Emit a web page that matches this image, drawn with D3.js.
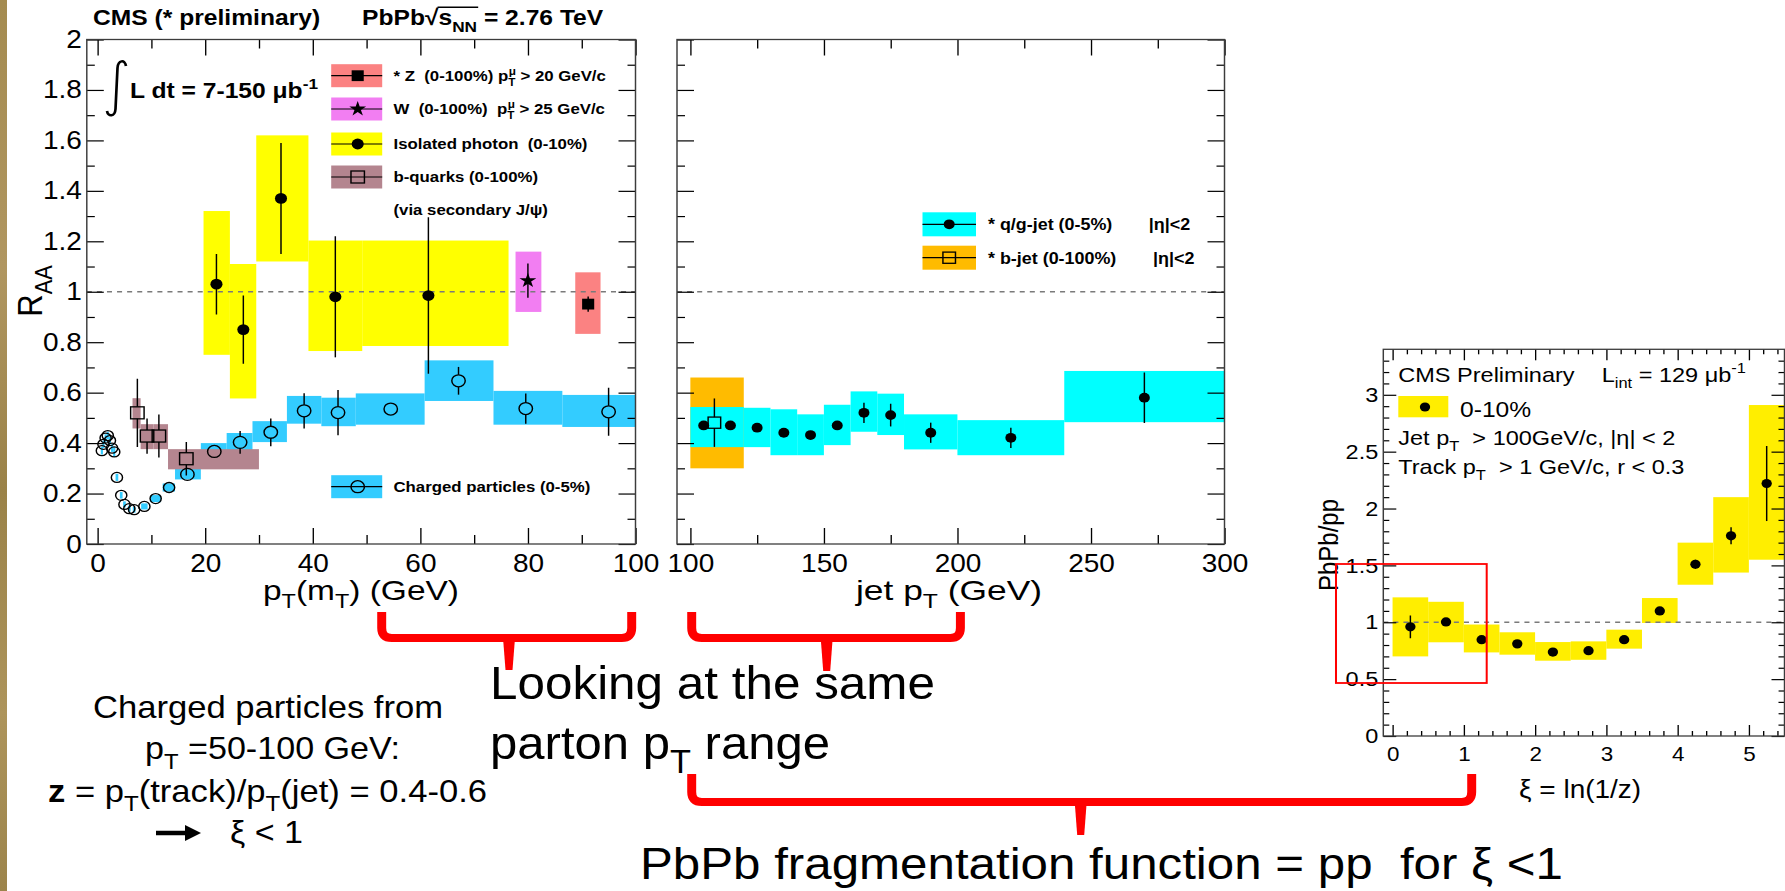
<!DOCTYPE html>
<html>
<head>
<meta charset="utf-8">
<title>Nuclear modification factors and fragmentation function ratio</title>
<script src="https://cdn.jsdelivr.net/npm/d3@7"></script>
<style>
  html, body { margin: 0; padding: 0; background: #fff; }
  svg { display: block; }
  text { font-family: "Liberation Sans", Arial, Helvetica, sans-serif; white-space: pre; }
</style>
</head>
<body>
<svg id="chart" width="1785" height="891"></svg>
<script>
// ---------------- values ----------------
// Left panel: R_AA versus pT (mT) in GeV
const photonX = [22.1, 27.1, 34.1, 44.2, 61.5];
const photonY = [1.03, 0.85, 1.37, 0.98, 0.985];
const photonStat = [0.12, 0.135, 0.22, 0.24, 0.31];
const photonBinLo = [19.7, 24.6, 29.5, 39.2, 49.2];
const photonBinHi = [24.6, 29.5, 39.2, 49.2, 76.4];
const photonSysLo = [0.75, 0.577, 1.12, 0.765, 0.785];
const photonSysHi = [1.32, 1.11, 1.62, 1.203, 1.203];

const wX = [80.0];
const wY = [1.044];
const wStat = [0.068];
const wBinLo = [77.7];
const wBinHi = [82.5];
const wSysLo = [0.92];
const wSysHi = [1.159];

const zX = [91.2];
const zY = [0.951];
const zStat = [0.03];
const zBinLo = [88.8];
const zBinHi = [93.5];
const zSysLo = [0.833];
const zSysHi = [1.077];

const chargedX = [0.8, 1.1, 1.5, 1.9, 2.3, 2.7, 3.1, 3.6, 4.4, 5.0, 5.9, 6.8, 8.7, 10.8, 13.3, 16.7, 21.7, 26.5, 32.2, 38.4, 44.7, 54.5, 67.1, 79.6, 95.0];
const chargedY = [0.37, 0.395, 0.42, 0.43, 0.41, 0.38, 0.365, 0.264, 0.193, 0.157, 0.14, 0.136, 0.149, 0.18, 0.224, 0.276, 0.367, 0.403, 0.443, 0.528, 0.521, 0.535, 0.647, 0.537, 0.524];
const chargedStat = [0.008, 0.008, 0.008, 0.008, 0.008, 0.008, 0.008, 0.006, 0.005, 0.005, 0.005, 0.005, 0.005, 0.006, 0.008, 0.01, 0.02, 0.045, 0.055, 0.07, 0.09, 0.02, 0.055, 0.06, 0.095];
const chargedBinLo = [0.6, 0.9, 1.3, 1.7, 2.1, 2.5, 2.9, 3.35, 4.15, 4.75, 5.65, 6.55, 8.1, 9.8, 12.1, 14.4, 19.2, 24.0, 28.8, 35.2, 41.6, 48.0, 60.8, 73.6, 86.4];
const chargedBinHi = [1.0, 1.3, 1.7, 2.1, 2.5, 2.9, 3.3, 3.85, 4.65, 5.25, 6.15, 7.05, 9.3, 11.8, 14.4, 19.2, 24.0, 28.8, 35.2, 41.6, 48.0, 60.8, 73.6, 86.4, 103.6];
const chargedSysLo = [0.355, 0.38, 0.405, 0.415, 0.395, 0.365, 0.345, 0.25, 0.18, 0.145, 0.128, 0.124, 0.137, 0.166, 0.208, 0.256, 0.33, 0.37, 0.404, 0.477, 0.467, 0.473, 0.567, 0.473, 0.464];
const chargedSysHi = [0.385, 0.41, 0.435, 0.445, 0.425, 0.395, 0.385, 0.278, 0.206, 0.169, 0.152, 0.148, 0.161, 0.194, 0.24, 0.30, 0.40, 0.44, 0.487, 0.587, 0.58, 0.597, 0.728, 0.607, 0.591];

const bqX = [7.4, 9.2, 11.4, 16.5];
const bqY = [0.52, 0.428, 0.428, 0.338];
const bqStat = [0.135, 0.07, 0.085, 0.066];
const bqBinLo = [6.5, 8.0, 10.4, 13.1];
const bqBinHi = [8.0, 10.4, 13.1, 30.0];
const bqSysLo = [0.458, 0.376, 0.376, 0.296];
const bqSysHi = [0.578, 0.475, 0.475, 0.376];

// Middle panel: jet R_AA versus jet pT (GeV)
const qgX = [105, 115, 125, 135, 145, 155, 165, 175, 190, 220, 270];
const qgY = [0.47, 0.47, 0.461, 0.441, 0.432, 0.47, 0.52, 0.511, 0.441, 0.421, 0.58];
const qgStat = [0.012, 0.012, 0.012, 0.012, 0.012, 0.015, 0.04, 0.045, 0.04, 0.04, 0.1];
const qgBinLo = [100, 110, 120, 130, 140, 150, 160, 170, 180, 200, 240];
const qgBinHi = [110, 120, 130, 140, 150, 160, 170, 180, 200, 240, 300];
const qgSysLo = [0.384, 0.384, 0.384, 0.352, 0.352, 0.392, 0.445, 0.432, 0.375, 0.352, 0.483];
const qgSysHi = [0.543, 0.543, 0.54, 0.534, 0.514, 0.552, 0.605, 0.596, 0.514, 0.491, 0.686];

const bjetX = [109];
const bjetY = [0.481];
const bjetStat = [0.096];
const bjetBinLo = [100];
const bjetBinHi = [120];
const bjetSysLo = [0.30];
const bjetSysHi = [0.66];

// Right panel: PbPb/pp fragmentation function ratio versus xi = ln(1/z)
const xiX = [0.25, 0.75, 1.25, 1.75, 2.25, 2.75, 3.25, 3.75, 4.25, 4.75, 5.25];
const xiY = [0.96, 1.003, 0.847, 0.81, 0.738, 0.75, 0.847, 1.10, 1.51, 1.76, 2.22];
const xiStat = [0.1, 0.02, 0.012, 0.012, 0.012, 0.012, 0.012, 0.02, 0.04, 0.075, 0.33];
const xiBinLo = [0, 0.5, 1.0, 1.5, 2.0, 2.5, 3.0, 3.5, 4.0, 4.5, 5.0];
const xiBinHi = [0.5, 1.0, 1.5, 2.0, 2.5, 3.0, 3.5, 4.0, 4.5, 5.0, 5.5];
const xiSysLo = [0.70, 0.824, 0.735, 0.715, 0.662, 0.67, 0.768, 0.994, 1.33, 1.437, 1.55];
const xiSysHi = [1.219, 1.18, 0.98, 0.912, 0.826, 0.832, 0.935, 1.213, 1.70, 2.10, 2.91];

// Tick values
const ptTicks = [0, 20, 40, 60, 80, 100];
const ptMinor = [10, 30, 50, 70, 90];
const jetTicks = [100, 150, 200, 250, 300];
const jetMinor = [125, 175, 225, 275];
const raaTicks = [0, 0.2, 0.4, 0.6, 0.8, 1, 1.2, 1.4, 1.6, 1.8, 2];
const raaMinor = [0.1, 0.3, 0.5, 0.7, 0.9, 1.1, 1.3, 1.5, 1.7, 1.9];
const xiTicks = [0, 1, 2, 3, 4, 5];
const xiMinor = [0.2, 0.4, 0.6, 0.8, 1.2, 1.4, 1.6, 1.8, 2.2, 2.4, 2.6, 2.8, 3.2, 3.4, 3.6, 3.8, 4.2, 4.4, 4.6, 4.8, 5.2, 5.4];
const ratioTicks = [0, 0.5, 1, 1.5, 2, 2.5, 3];
const ratioMinor = [0.1, 0.2, 0.3, 0.4, 0.6, 0.7, 0.8, 0.9, 1.1, 1.2, 1.3, 1.4, 1.6, 1.7, 1.8, 1.9, 2.1, 2.2, 2.3, 2.4, 2.6, 2.7, 2.8, 2.9, 3.1, 3.2, 3.3];

// ---------------- colours ----------------
const C_Z = '#fb8282', C_W = '#f27ef2', C_PHOTON = '#ffff00', C_BQ = '#b4858f',
      C_CH = '#33ccff', C_QG = '#00ffff', C_BJET = '#ffbb00', C_FF = '#ffee00', RED = '#ff0000';

// ---------------- scene ----------------
// The slide is drawn with a slight horizontal stretch.
const SX = 1.12;
const X = px => px / SX;

const svg = d3.select('#chart');
const defs = svg.append('defs');
const gold = defs.append('linearGradient').attr('id', 'gold').attr('x1', 0).attr('y1', 0).attr('x2', 0).attr('y2', 1);
[['0', '#a48b50'], ['0.3', '#b09660'], ['0.55', '#9a8248'], ['0.8', '#ad945b'], ['1', '#9c844b']]
  .forEach(([o, c]) => gold.append('stop').attr('offset', o).attr('stop-color', c));
svg.append('rect').attr('width', 1785).attr('height', 891).attr('fill', '#fff');
svg.append('rect').attr('x', 0).attr('y', 0).attr('width', 7).attr('height', 891).attr('fill', 'url(#gold)');

const root = svg.append('g').attr('transform', `scale(${SX},1)`);

// rich text: parts are strings or {t, k:'sub'|'sup', dx, w, cls}
function rich(parent, x, y, parts, o = {}) {
  const fs = o.size || 20;
  const t = parent.append('text')
    .attr('x', x).attr('y', y)
    .attr('font-size', fs)
    .attr('font-weight', o.weight || 'normal')
    .attr('text-anchor', o.anchor || 'start')
    .attr('fill', o.fill || '#000');
  if (o.transform) t.attr('transform', o.transform);
  if (o.len) t.attr('textLength', o.len).attr('lengthAdjust', 'spacingAndGlyphs');
  let shift = 0;
  parts.forEach(p => {
    const q = typeof p === 'string' ? { t: p } : p;
    const off = q.k === 'sub' ? fs * 0.3 : q.k === 'sup' ? -fs * 0.42 : 0;
    const ts = t.append('tspan').text(q.t).attr('dy', off - shift);
    if (q.k) ts.attr('font-size', fs * 0.7);
    if (q.dx) ts.attr('dx', q.dx);
    if (q.w) ts.attr('font-weight', q.w);
    if (q.cls) ts.attr('class', q.cls);
    shift = off;
  });
  return t;
}

function series(x, y, stat, binLo, binHi, sysLo, sysHi) {
  return x.map((v, i) => ({ x: v, y: y[i], e: stat[i], lo: binLo[i], hi: binHi[i], slo: sysLo[i], shi: sysHi[i] }));
}

function bands(g, xs, ys, data, color) {
  g.append('g').selectAll('rect').data(data).join('rect')
    .attr('x', d => xs(d.lo)).attr('width', d => xs(d.hi) - xs(d.lo))
    .attr('y', d => ys(d.shi)).attr('height', d => ys(d.slo) - ys(d.shi))
    .attr('fill', color);
}

function errors(g, xs, ys, data, gap) {
  const segs = [];
  data.forEach(d => {
    const cx = xs(d.x), cy = ys(d.y), top = ys(d.y + d.e), bot = ys(d.y - d.e);
    if (cy - gap > top) segs.push([cx, top, cy - gap]);
    if (cy + gap < bot) segs.push([cx, cy + gap, bot]);
  });
  g.append('g').selectAll('line').data(segs).join('line')
    .attr('x1', s => s[0]).attr('x2', s => s[0]).attr('y1', s => s[1]).attr('y2', s => s[2])
    .attr('stroke', '#000').attr('stroke-width', 1.3);
}

function markers(g, xs, ys, data, kind, r) {
  const m = g.append('g');
  const px = d => xs(d.x), py = d => ys(d.y);
  if (kind === 'dot' || kind === 'ring') {
    m.selectAll('circle').data(data).join('circle')
      .attr('cx', px).attr('cy', py).attr('r', r)
      .attr('fill', kind === 'dot' ? '#000' : 'none')
      .attr('stroke', '#000').attr('stroke-width', kind === 'dot' ? 0 : 1.3);
  } else if (kind === 'square' || kind === 'box') {
    m.selectAll('rect').data(data).join('rect')
      .attr('x', d => px(d) - r).attr('y', d => py(d) - r).attr('width', 2 * r).attr('height', 2 * r)
      .attr('fill', kind === 'square' ? '#000' : 'none')
      .attr('stroke', '#000').attr('stroke-width', kind === 'square' ? 0 : 1.3);
  } else if (kind === 'star') {
    m.selectAll('path').data(data).join('path')
      .attr('transform', d => `translate(${px(d)},${py(d)})`)
      .attr('d', d3.symbol(d3.symbolStar, r))
      .attr('fill', '#000');
  }
}

function legendMarker(g, cx, cy, kind, r) {
  markers(g, d3.scaleIdentity(), d3.scaleIdentity(), [{ x: cx, y: cy }], kind, r);
}

function frame(g, xs, ys, cfg) {
  const [x0, x1] = xs.range(), [y0, y1] = ys.range();
  const ax = (fn, scale, vals, len, tx, ty, fmt, fs, pad) => {
    const a = fn(scale).tickValues(vals).tickSize(-len).tickPadding(pad || 0)
      .tickFormat(fmt || (() => ''));
    const s = g.append('g').attr('transform', `translate(${tx},${ty})`).call(a);
    s.select('.domain').remove();
    s.selectAll('.tick line').attr('stroke', '#000').attr('stroke-width', 1.2);
    s.selectAll('.tick text').attr('fill', '#000').attr('font-size', fs || 10);
    return s;
  };
  const fmt = d => String(+(+d).toFixed(2));
  ax(d3.axisBottom, xs, cfg.xMajor, cfg.xLen[0], 0, y0, cfg.xLabels ? fmt : null, cfg.xFont, cfg.xPad);
  ax(d3.axisBottom, xs, cfg.xMinor, cfg.xLen[1], 0, y0);
  ax(d3.axisTop, xs, cfg.xMajor, cfg.xLen[0], 0, y1);
  ax(d3.axisTop, xs, cfg.xMinor, cfg.xLen[1], 0, y1);
  ax(d3.axisLeft, ys, cfg.yMajor, cfg.yLen[0], x0, 0, cfg.yLabels ? fmt : null, cfg.yFont, cfg.yPad);
  ax(d3.axisLeft, ys, cfg.yMinor, cfg.yLen[1], x0, 0);
  ax(d3.axisRight, ys, cfg.yMajor, cfg.yLen[0], x1, 0);
  ax(d3.axisRight, ys, cfg.yMinor, cfg.yLen[1], x1, 0);
  g.append('rect').attr('x', x0).attr('y', y1).attr('width', x1 - x0).attr('height', y0 - y1)
    .attr('fill', 'none').attr('stroke', '#3c3c3c').attr('stroke-width', 1.3);
}

function unityLine(g, xs, ys) {
  g.append('line').attr('x1', xs.range()[0]).attr('x2', xs.range()[1])
    .attr('y1', ys(1)).attr('y2', ys(1))
    .attr('stroke', '#7a7a7a').attr('stroke-width', 1.3).attr('stroke-dasharray', '4.5,4.5');
}

function clipFor(id, xs, ys) {
  const [x0, x1] = xs.range(), [y0, y1] = ys.range();
  defs.append('clipPath').attr('id', id).append('rect')
    .attr('x', x0).attr('y', y1).attr('width', x1 - x0).attr('height', y0 - y1);
  return `url(#${id})`;
}

// ---------------- scales ----------------
const yRAA = d3.scaleLinear().domain([0, 2]).range([544, 39.5]);
const xPt = d3.scaleLinear().domain([-2, 100]).range([X(86.8), X(635.5)]);
const xJet = d3.scaleLinear().domain([95, 300]).range([X(677), X(1224.5)]);
const xXi = d3.scaleLinear().domain([-0.13, 5.5]).range([X(1383.3), X(1784.5)]);
const yRatio = d3.scaleLinear().domain([0, 3.4]).range([736, 349.3]);

// ================= left panel =================
const pL = root.append('g');
const dL = pL.append('g').attr('clip-path', clipFor('clipL', xPt, yRAA));
const photon = series(photonX, photonY, photonStat, photonBinLo, photonBinHi, photonSysLo, photonSysHi);
const wBoson = series(wX, wY, wStat, wBinLo, wBinHi, wSysLo, wSysHi);
const zBoson = series(zX, zY, zStat, zBinLo, zBinHi, zSysLo, zSysHi);
const charged = series(chargedX, chargedY, chargedStat, chargedBinLo, chargedBinHi, chargedSysLo, chargedSysHi);
const bquark = series(bqX, bqY, bqStat, bqBinLo, bqBinHi, bqSysLo, bqSysHi);

bands(dL, xPt, yRAA, charged, C_CH);
bands(dL, xPt, yRAA, bquark, C_BQ);
bands(dL, xPt, yRAA, photon, C_PHOTON);
bands(dL, xPt, yRAA, wBoson, C_W);
bands(dL, xPt, yRAA, zBoson, C_Z);
unityLine(dL, xPt, yRAA);
errors(dL, xPt, yRAA, charged.filter(d => d.x > 15), 6);
errors(dL, xPt, yRAA, bquark, 6);
errors(dL, xPt, yRAA, photon, 0);
errors(dL, xPt, yRAA, wBoson, 0);
errors(dL, xPt, yRAA, zBoson, 0);
markers(dL, xPt, yRAA, charged.filter(d => d.x < 15), 'ring', 5);
markers(dL, xPt, yRAA, charged.filter(d => d.x > 15), 'ring', 6);
markers(dL, xPt, yRAA, bquark, 'box', 6);
markers(dL, xPt, yRAA, photon, 'dot', 5.4);
markers(dL, xPt, yRAA, wBoson, 'star', 70);
markers(dL, xPt, yRAA, zBoson, 'square', 5.4);

frame(pL, xPt, yRAA, {
  xMajor: ptTicks, xMinor: ptMinor, xLen: [16, 9], xLabels: true, xFont: 25, xPad: 10,
  yMajor: raaTicks, yMinor: raaMinor, yLen: [X(17), X(8)], yLabels: true, yFont: 25, yPad: X(5)
});

// left legend
const legL = [
  { y: 75.7, color: C_Z, kind: 'square', r: 5.4,
    text: ['* Z  (0-100%) p', { t: 'T', k: 'sub' }, { t: 'μ', k: 'sup', dx: -6 }, ' > 20 GeV/c'] },
  { y: 109, color: C_W, kind: 'star', r: 70,
    text: ['W  (0-100%)  p', { t: 'T', k: 'sub' }, { t: 'μ', k: 'sup', dx: -6 }, ' > 25 GeV/c'] },
  { y: 144, color: C_PHOTON, kind: 'dot', r: 5.4, text: ['Isolated photon  (0-10%)'] },
  { y: 177, color: C_BQ, kind: 'box', r: 6, text: ['b-quarks (0-100%)'] },
  { y: 486.7, color: C_CH, kind: 'ring', r: 6, text: ['Charged particles (0-5%)'] }
];
legL.forEach(L => {
  pL.append('rect').attr('x', X(331.2)).attr('y', L.y - 11.5).attr('width', X(51)).attr('height', 23).attr('fill', L.color);
  pL.append('line').attr('x1', X(331.2)).attr('x2', X(382.2)).attr('y1', L.y).attr('y2', L.y)
    .attr('stroke', '#000').attr('stroke-width', 1.2);
  legendMarker(pL, X(357.7), L.y, L.kind, L.r);
  rich(pL, X(393.5), L.y + 5.5, L.text, { size: 15, weight: 'bold' });
});
rich(pL, X(393.5), 215.5, ['(via secondary J/ψ)'], { size: 15, weight: 'bold' });

// header and luminosity
rich(root, X(93), 25, ['CMS (* preliminary)'], { size: 22, weight: 'bold' });
const hdr = rich(root, X(362), 25,
  ['PbPb', { t: '√', cls: 'rad' }, { t: 's', cls: 'ov' }, { t: 'NN', k: 'sub', cls: 'ov' }, ' = 2.76 TeV'],
  { size: 22, weight: 'bold' });
try {
  const rb = hdr.select('.rad').node().getBBox();
  const ob = hdr.selectAll('.ov').nodes().map(n => n.getBBox());
  const xEnd = d3.max(ob, b => b.x + b.width);
  root.append('line').attr('x1', rb.x + rb.width - 1).attr('x2', xEnd + 1)
    .attr('y1', rb.y + 2).attr('y2', rb.y + 2).attr('stroke', '#000').attr('stroke-width', 1.6);
} catch (e) { /* bbox unavailable */ }

root.append('path')
  .attr('d', `M${X(126)},66 C${X(125)},59 ${X(118)},60 ${X(117.5)},68 L${X(115.5)},109 C${X(115)},117 ${X(108)},117 ${X(107)},111`)
  .attr('fill', 'none').attr('stroke', '#000').attr('stroke-width', 2.4);
rich(root, X(130), 98, ['L dt = 7-150 μb', { t: '-1', k: 'sup' }], { size: 22, weight: 'bold' });

// axis titles
rich(root, 0, 0, ['R', { t: 'AA', k: 'sub' }], { size: 31, anchor: 'middle', transform: `translate(${X(42)},291) rotate(-90)` });
rich(root, X(263), 600, ['p', { t: 'T', k: 'sub' }, '(m', { t: 'T', k: 'sub' }, ') (GeV)'], { size: 28, len: X(196) });

// ================= middle panel =================
const pM = root.append('g');
const dM = pM.append('g').attr('clip-path', clipFor('clipM', xJet, yRAA));
const qg = series(qgX, qgY, qgStat, qgBinLo, qgBinHi, qgSysLo, qgSysHi);
const bjet = series(bjetX, bjetY, bjetStat, bjetBinLo, bjetBinHi, bjetSysLo, bjetSysHi);
bands(dM, xJet, yRAA, bjet, C_BJET);
bands(dM, xJet, yRAA, qg, C_QG);
unityLine(dM, xJet, yRAA);
errors(dM, xJet, yRAA, qg, 0);
errors(dM, xJet, yRAA, bjet, 5.5);
markers(dM, xJet, yRAA, qg, 'dot', 4.9);
markers(dM, xJet, yRAA, bjet, 'box', 5.6);
frame(pM, xJet, yRAA, {
  xMajor: jetTicks, xMinor: jetMinor, xLen: [16, 9], xLabels: true, xFont: 25, xPad: 10,
  yMajor: raaTicks, yMinor: raaMinor, yLen: [X(17), X(8)], yLabels: false
});
const legM = [
  { y: 224.3, color: C_QG, kind: 'dot', r: 4.9, text: ['* q/g-jet (0-5%)'], eta: 1148.8 },
  { y: 257.7, color: C_BJET, kind: 'box', r: 5.6, text: ['* b-jet (0-100%)'], eta: 1153 }
];
legM.forEach(L => {
  pM.append('rect').attr('x', X(922.5)).attr('y', L.y - 12).attr('width', X(53.5)).attr('height', 24).attr('fill', L.color);
  pM.append('line').attr('x1', X(922.5)).attr('x2', X(976)).attr('y1', L.y).attr('y2', L.y)
    .attr('stroke', '#000').attr('stroke-width', 1.2);
  legendMarker(pM, X(949.2), L.y, L.kind, L.r);
  rich(pM, X(988), L.y + 6, L.text, { size: 16, weight: 'bold' });
  rich(pM, X(L.eta), L.y + 6, ['|η|<2'], { size: 16, weight: 'bold' });
});
rich(root, X(856), 600, ['jet p', { t: 'T', k: 'sub' }, ' (GeV)'], { size: 28, len: X(186) });

// ================= right panel =================
const pR = root.append('g');
const dR = pR.append('g').attr('clip-path', clipFor('clipR', xXi, yRatio));
const ff = series(xiX, xiY, xiStat, xiBinLo, xiBinHi, xiSysLo, xiSysHi);
bands(dR, xXi, yRatio, ff, C_FF);
unityLine(dR, xXi, yRatio);
errors(dR, xXi, yRatio, ff, 0);
markers(dR, xXi, yRatio, ff, 'dot', 4.6);
frame(pR, xXi, yRatio, {
  xMajor: xiTicks, xMinor: xiMinor, xLen: [11, 5], xLabels: true, xFont: 20, xPad: 10.5,
  yMajor: ratioTicks, yMinor: ratioMinor, yLen: [X(13), X(6)], yLabels: true, yFont: 21, yPad: X(5)
});
rich(pR, X(1398.3), 381.7, ['CMS Preliminary'], { size: 21 });
rich(pR, X(1601.7), 381.7, ['L', { t: 'int', k: 'sub' }, ' = 129 μb', { t: '-1', k: 'sup' }], { size: 21 });
pR.append('rect').attr('x', X(1398.3)).attr('y', 396).attr('width', X(50)).attr('height', 21.3).attr('fill', C_FF);
legendMarker(pR, X(1425), 407, 'dot', 4.6);
rich(pR, X(1460), 417, ['0-10%'], { size: 22 });
rich(pR, X(1398.3), 445, ['Jet p', { t: 'T', k: 'sub' }, '  > 100GeV/c, |η| < 2'], { size: 21 });
rich(pR, X(1398.3), 474, ['Track p', { t: 'T', k: 'sub' }, '  > 1 GeV/c, r < 0.3'], { size: 21 });
rich(root, 0, 0, ['PbPb/pp'], { size: 24, anchor: 'middle', transform: `translate(${X(1338)},545) rotate(-90)` });
rich(root, X(1519), 798, ['ξ = ln(1/z)'], { size: 25 });

// highlighted region xi < 1
root.append('rect').attr('x', X(1336)).attr('y', 564).attr('width', X(150.7)).attr('height', 119)
  .attr('fill', 'none').attr('stroke', RED).attr('stroke-width', 1.8);

// ================= annotations =================
function bracket(x1, x2, top, hy, cx, bottom) {
  const r = 10;
  root.append('path')
    .attr('d', `M${X(x1)},${top} L${X(x1)},${hy - r} Q${X(x1)},${hy} ${X(x1 + r)},${hy} L${X(x2 - r)},${hy} Q${X(x2)},${hy} ${X(x2)},${hy - r} L${X(x2)},${top}`)
    .attr('fill', 'none').attr('stroke', RED).attr('stroke-width', 8);
  root.append('path')
    .attr('d', `M${X(cx - 6)},${hy} L${X(cx + 6)},${hy} L${X(cx + 3.5)},${bottom} L${X(cx - 3.5)},${bottom} Z`)
    .attr('fill', RED);
}
bracket(381.7, 631.7, 612, 638, 509, 670);
bracket(691.7, 960.4, 612, 638, 826.7, 671);
bracket(691.7, 1471.7, 774, 802, 1080.7, 835);

rich(root, X(490), 699, ['Looking at the same'], { size: 47, len: X(445) });
rich(root, X(490), 759, ['parton p', { t: 'T', k: 'sub' }, ' range'], { size: 47, len: X(340) });
rich(root, X(640), 879, ['PbPb fragmentation function = pp  for ξ <1'], { size: 44, len: X(923) });

rich(root, X(268), 718.3, ['Charged particles from'], { size: 31, anchor: 'middle', len: X(350) });
rich(root, X(272.5), 759.3, ['p', { t: 'T', k: 'sub' }, ' =50-100 GeV:'], { size: 31, anchor: 'middle', len: X(255) });
rich(root, X(267.5), 801.7, [{ t: 'z', w: 'bold' }, ' = p', { t: 'T', k: 'sub' }, '(track)/p', { t: 'T', k: 'sub' }, '(jet) = 0.4-0.6'],
  { size: 31, anchor: 'middle', len: X(439) });
root.append('line').attr('x1', X(156)).attr('x2', X(188)).attr('y1', 833).attr('y2', 833)
  .attr('stroke', '#000').attr('stroke-width', 4.5);
root.append('path').attr('d', `M${X(185)},825 L${X(201)},833 L${X(185)},841 Z`).attr('fill', '#000');
rich(root, X(230), 843, ['ξ < 1'], { size: 31, len: X(73) });
</script>
</body>
</html>
